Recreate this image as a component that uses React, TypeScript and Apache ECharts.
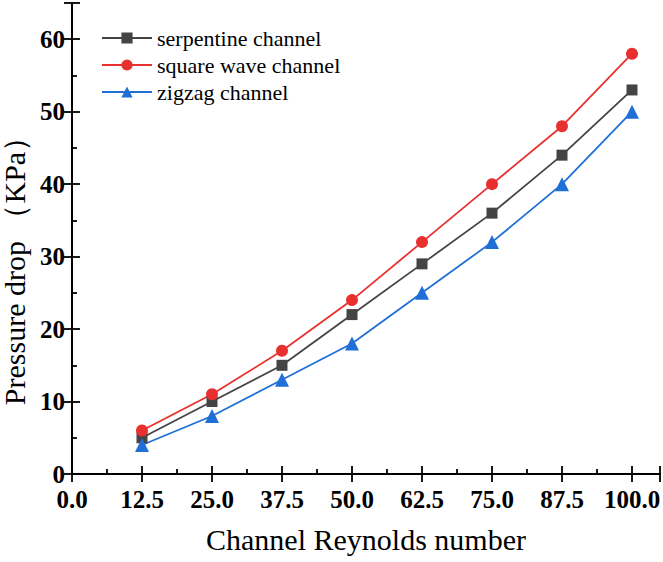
import React, { useEffect, useRef } from "react";
import * as echarts from "echarts";

const reynolds = [12.5, 25.0, 37.5, 50.0, 62.5, 75.0, 87.5, 100.0];
const serpentine = [5, 10, 15, 22, 29, 36, 44, 53];
const squareWave = [6, 11, 17, 24, 32, 40, 48, 58];
const zigzag = [4, 8, 13, 18, 25, 32, 40, 50];

const FONT = "'Liberation Serif', 'Times New Roman', serif";

export default function App() {
  const ref = useRef<HTMLDivElement>(null);
  useEffect(() => {
    if (!ref.current) return;
    const chart = echarts.init(ref.current, undefined, { renderer: "svg" });
    const mk = (vals: number[]) => reynolds.map((x, i) => [x, vals[i]]);
    const axisLine = { show: true, lineStyle: { color: "#000", width: 1.8 } };
    const tick = { show: true, inside: true, length: 8, lineStyle: { color: "#000", width: 1.8 } };
    const minor = { show: true, splitNumber: 2, length: 5, lineStyle: { color: "#000", width: 1.8 } };
    chart.setOption({
      animation: false,
      backgroundColor: "#fff",
      grid: {
        left: 72,
        right: 3,
        top: 3,
        bottom: 88,
        containLabel: false,
        outerBoundsMode: "none",
      },
      legend: {
        orient: "vertical",
        left: 96,
        top: 22,
        itemWidth: 50,
        itemHeight: 14,
        itemGap: 5,
        textStyle: { fontFamily: FONT, fontSize: 22, color: "#000" },
        data: ["serpentine channel", "square wave channel", "zigzag channel"],
      },
      xAxis: [
        {
          type: "value",
          min: 0,
          max: 105,
          interval: 12.5,
          axisLine,
          axisTick: tick,
          minorTick: minor,
          splitLine: { show: false },
          axisLabel: {
            fontFamily: FONT,
            fontSize: 25,
            fontWeight: "bold",
            color: "#000",
            margin: 13,
            formatter: (v: number) => (v > 100 ? "" : v.toFixed(1)),
          },
          name: "Channel Reynolds number",
          nameLocation: "middle",
          nameGap: 50,
          nameTextStyle: { fontFamily: FONT, fontSize: 30, color: "#000" },
        },
        {
          type: "value",
          position: "top",
          min: 0,
          max: 105,
          interval: 12.5,
          axisLine,
          axisTick: tick,
          minorTick: { show: false },
          splitLine: { show: false },
          axisLabel: { show: false },
        },
      ],
      yAxis: [
        {
          type: "value",
          min: 0,
          max: 65,
          interval: 10,
          axisLine,
          axisTick: tick,
          minorTick: minor,
          splitLine: { show: false },
          axisLabel: {
            fontFamily: FONT,
            fontSize: 25,
            fontWeight: "bold",
            color: "#000",
            margin: 7,
            formatter: (v: number) => (v > 60 ? "" : String(v)),
          },
          name: "Pressure drop （KPa）",
          nameLocation: "middle",
          nameGap: 33,
          nameTextStyle: {
            fontFamily: FONT,
            fontSize: 30,
            lineHeight: 30,
            color: "#000",
            padding: [0, 50, 0, 0],
          },
        },
        {
          type: "value",
          position: "right",
          min: 0,
          max: 65,
          interval: 10,
          axisLine,
          axisTick: tick,
          minorTick: { show: false },
          splitLine: { show: false },
          axisLabel: { show: false },
        },
      ],
      series: [
        {
          name: "serpentine channel",
          type: "line",
          data: mk(serpentine),
          symbol: "rect",
          symbolSize: 11,
          color: "#444444",
          lineStyle: { width: 1.8 },
        },
        {
          name: "square wave channel",
          type: "line",
          data: mk(squareWave),
          symbol: "circle",
          symbolSize: 12,
          color: "#e8312f",
          lineStyle: { width: 1.8 },
        },
        {
          name: "zigzag channel",
          type: "line",
          data: mk(zigzag),
          symbol: "triangle",
          symbolSize: 14,
          color: "#1f6fd6",
          lineStyle: { width: 1.8 },
        },
      ],
    });
    return () => chart.dispose();
  }, []);
  return (
    <div
      ref={ref}
      style={{ position: "fixed", left: 0, top: 0, width: 663, height: 562 }}
    />
  );
}
